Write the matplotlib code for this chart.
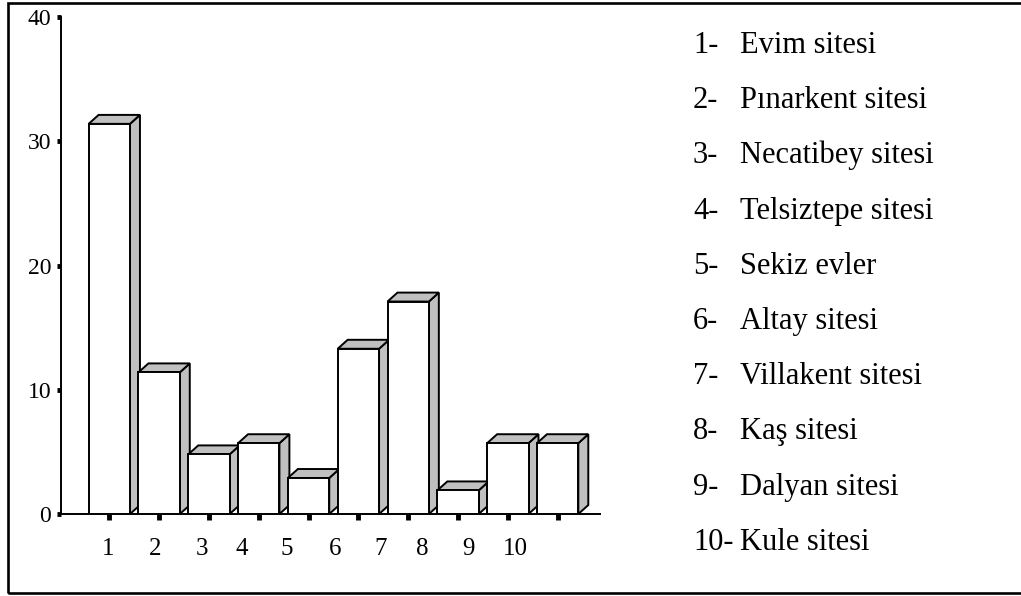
import matplotlib
matplotlib.use("Agg")
import matplotlib.pyplot as plt
from matplotlib.patches import Rectangle

# site numbers, their share (%) and legend names
sites = [1, 2, 3, 4, 5, 6, 7, 8, 9, 10]
percent = [31.4, 11.4, 4.8, 5.7, 2.9, 13.3, 17.1, 1.9, 5.7, 5.7]
names = ["Evim sitesi", "Pınarkent sitesi", "Necatibey sitesi",
         "Telsiztepe sitesi", "Sekiz evler", "Altay sitesi",
         "Villakent sitesi", "Kaş sitesi", "Dalyan sitesi", "Kule sitesi"]
xlabels = ["1", "2", "3", "4", "5", "6", "7", "8", "9", "10"]

# where the number labels sit under the axis (they drift left of the bars)
label_pos = [0.97, 1.92, 2.86, 3.66, 4.56, 5.53, 6.44, 7.28, 8.21, 9.16]

plt.rcParams["font.family"] = ["Liberation Serif", "DejaVu Serif"]

W, H = 1021, 596
fig = plt.figure(figsize=(W / 100, H / 100), dpi=100)
ax = fig.add_axes([61 / W, (H - 514) / H, (600 - 61) / W, (514 - 17) / H])

width = 0.83   # front face
dx = 0.2       # depth to the right
dy = 0.72      # depth upwards
gray = "#c0c0c0"

for x, v in zip(sites, percent):
    l, r = x - width / 2, x + width / 2
    # side face
    ax.fill([r, r + dx, r + dx, r], [0, dy, v + dy, v], facecolor=gray,
            edgecolor="black", linewidth=1.4, zorder=2)
    # top face
    ax.fill([l, l + dx, r + dx, r], [v, v + dy, v + dy, v], facecolor=gray,
            edgecolor="black", linewidth=1.4, zorder=2)
    # front face
    ax.bar(x, v, width=width, color="white", edgecolor="black",
           linewidth=1.4, zorder=3)

ax.set_xlim(0.03, 10.85)
ax.set_ylim(0, 40)

for s in ["top", "right"]:
    ax.spines[s].set_visible(False)
ax.spines["left"].set_linewidth(1.4)
ax.spines["bottom"].set_linewidth(1.4)

ax.set_yticks([0, 10, 20, 30, 40])
ax.tick_params(axis="y", direction="out", length=3, width=3.5,
               labelsize=17, pad=4)

# square tick marks under the bars, labels on their own positions
ax.set_xticks(sites, minor=True)
ax.set_xticks(label_pos)
ax.set_xticklabels(xlabels)
ax.tick_params(axis="x", which="minor", direction="out", length=4, width=3.5)
ax.tick_params(axis="x", which="major", length=0, labelsize=18, pad=17)

# site list on the right
for i, (num, name) in enumerate(zip(xlabels, names)):
    yb = 1 - (53 + i * 55.2) / H
    fig.text(693 / W, yb, num + "-", fontsize=22, va="baseline", ha="left")
    fig.text(740 / W, yb, name, fontsize=22, va="baseline", ha="left")

# frame round the whole chart
fig.patches.append(Rectangle((8 / W, 3 / H), 1.1, (592 - 2) / H,
                             transform=fig.transFigure, fill=False,
                             edgecolor="black", linewidth=1.9))

fig.savefig("out.png", dpi=100)
